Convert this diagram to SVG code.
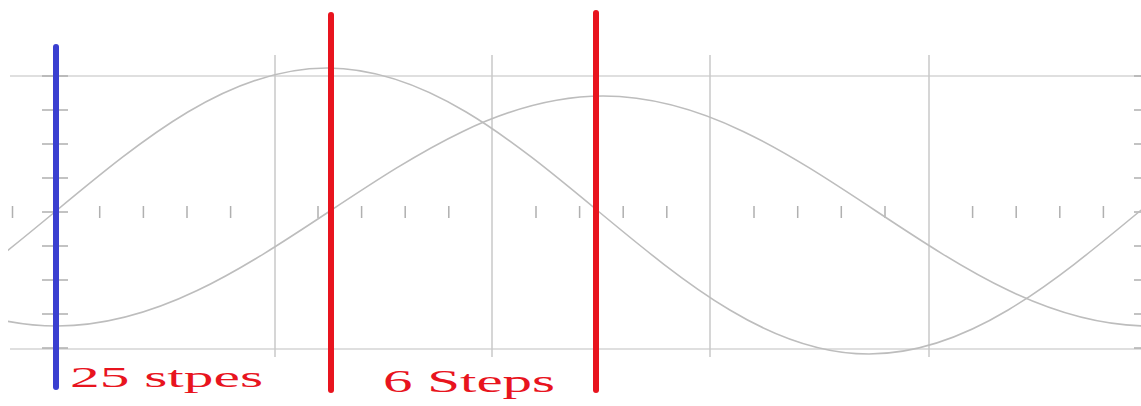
<svg xmlns="http://www.w3.org/2000/svg" width="1141" height="406" viewBox="0 0 1141 406">
<style>
.grid{stroke:#d4d4d4;stroke-width:1.5;fill:none}
.vgrid{stroke:#c8c8c8;stroke-width:1.5;fill:none}
.tick{stroke:#b0b0b0;stroke-width:1.5;fill:none}
.curve{stroke:#bdbdbd;stroke-width:1.6;fill:none}
.blue{stroke:#3a3fd0;stroke-width:6;stroke-linecap:round}
.red{stroke:#e8141e;stroke-width:6;stroke-linecap:round}
.lbl{font-family:"Liberation Serif","Times New Roman",serif;fill:#e8141e}
</style>
<defs>
<clipPath id="clip"><rect x="8" y="0" width="1133" height="406"/></clipPath>
</defs>
<g id="grid">
<line class="grid" x1="10" y1="76" x2="1141" y2="76"/>
<line class="grid" x1="10" y1="349" x2="1141" y2="349"/>
<line class="vgrid" x1="275" y1="55" x2="275" y2="357"/>
<line class="vgrid" x1="492" y1="55" x2="492" y2="357"/>
<line class="vgrid" x1="710" y1="55" x2="710" y2="357"/>
<line class="vgrid" x1="929" y1="55" x2="929" y2="357"/>
<line class="vgrid" x1="56" y1="76" x2="56" y2="349"/>
</g>
<g id="ticks">
<path class="tick" d="M12.5 206v12M99.7 206v12M143.4 206v12M187 206v12M230.6 206v12M318 206v12M361.6 206v12M405.2 206v12M448.8 206v12M536 206v12M579.6 206v12M623.2 206v12M666.8 206v12M754 206v12M797.7 206v12M841.3 206v12M885 206v12M972.6 206v12M1016.2 206v12M1059.8 206v12M1103.4 206v12"/>
<path class="tick" d="M42 76h26M42 110h26M42 144h26M42 178h26M42 212h26M42 246h26M42 280h26M42 314h26M42 348h26"/>
<path class="tick" d="M1134 76h7M1134 110h7M1134 144h7M1134 178h7M1134 212h7M1134 246h7M1134 280h7M1134 314h7M1134 348h7"/>
</g>
<g id="curves" clip-path="url(#clip)">
<path class="curve" d="M-215 354C-116.9 354 -32.4 284.3 56 211C144.4 137.7 228.9 68 327 68C425.1 68 509.6 137.7 598 211C686.4 284.3 770.9 354 869 354C967.1 354 1051.6 284.3 1140 211C1228.4 137.7 1312.9 68 1411 68"/>
<path class="curve" d="M-216 211C-127 269.9 -41.8 326 57 326C155.8 326 241 269.9 330 211C419 152.1 504.2 96 603 96C701.8 96 787 152.1 876 211C965 269.9 1050.2 326 1149 326"/>
</g>
<g id="markers">
<line class="blue" x1="56" y1="47" x2="56" y2="387"/>
<line class="red" x1="331" y1="15" x2="331" y2="390"/>
<line class="red" x1="596" y1="13" x2="596" y2="390"/>
</g>
<g id="labels">
<text class="lbl" x="70" y="387" font-size="30" textLength="193" lengthAdjust="spacingAndGlyphs">25 stpes</text>
<text class="lbl" x="383" y="392" font-size="31" textLength="172" lengthAdjust="spacingAndGlyphs">6 Steps</text>
</g>
</svg>
